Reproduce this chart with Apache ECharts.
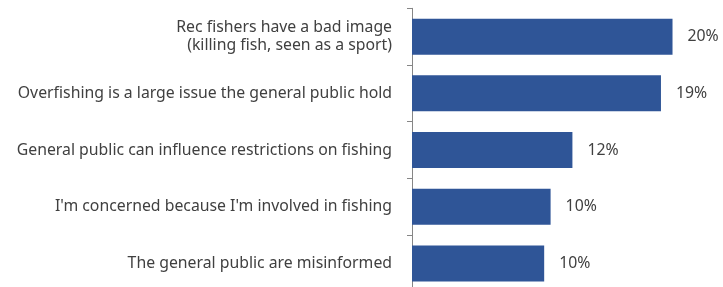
<!DOCTYPE html>
<html>
<head>
<meta charset="utf-8">
<script src="https://cdn.jsdelivr.net/npm/echarts@6/dist/echarts.min.js"></script>
<style>
  html, body { margin: 0; padding: 0; background: #fff; }
  #chart { width: 723px; height: 287px; }
</style>
</head>
<body>
<div id="chart"></div>
<script>
// 类目（从上到下）
const categories = [
    'Rec fishers have a bad image\n(killing fish, seen as a sport)',
    'Overfishing is a large issue the general public hold',
    'General public can influence restrictions on fishing',
    "I'm concerned because I'm involved in fishing",
    'The general public are misinformed'
]
// 条形长度（百分比，按图估计）
const values = [20.3, 19.4, 12.5, 10.8, 10.3]
// 显示的数值标签
const valueLabels = ['20%', '19%', '12%', '10%', '10%']

const chart = echarts.init(document.getElementById('chart'))

chart.setOption({
    animation: false,
    textStyle: { fontFamily: 'Noto Sans' },
    // 网格高度超出画布底部一点，和原图一致
    grid: { left: 412, right: 3, top: 8.3, height: 283.5, outerBoundsMode: 'none', containLabel: false },
    xAxis: {
        type: 'value',
        min: 0,
        max: 24,
        show: false
    },
    yAxis: {
        type: 'category',
        inverse: true,
        data: categories,
        axisLine: { lineStyle: { color: '#868686', width: 1 } },
        axisTick: { show: true, length: 5, lineStyle: { color: '#868686' } },
        axisLabel: {
            color: '#404040',
            fontSize: 15.8,
            margin: 20,
            lineHeight: 18,
            align: 'right'
        }
    },
    series: [{
        type: 'bar',
        data: values,
        barWidth: 36,
        itemStyle: { color: '#2F5597' },
        label: {
            show: true,
            position: 'right',
            distance: 15,
            color: '#404040',
            fontSize: 15.8,
            formatter: p => valueLabels[p.dataIndex]
        }
    }]
})
</script>
</body>
</html>
